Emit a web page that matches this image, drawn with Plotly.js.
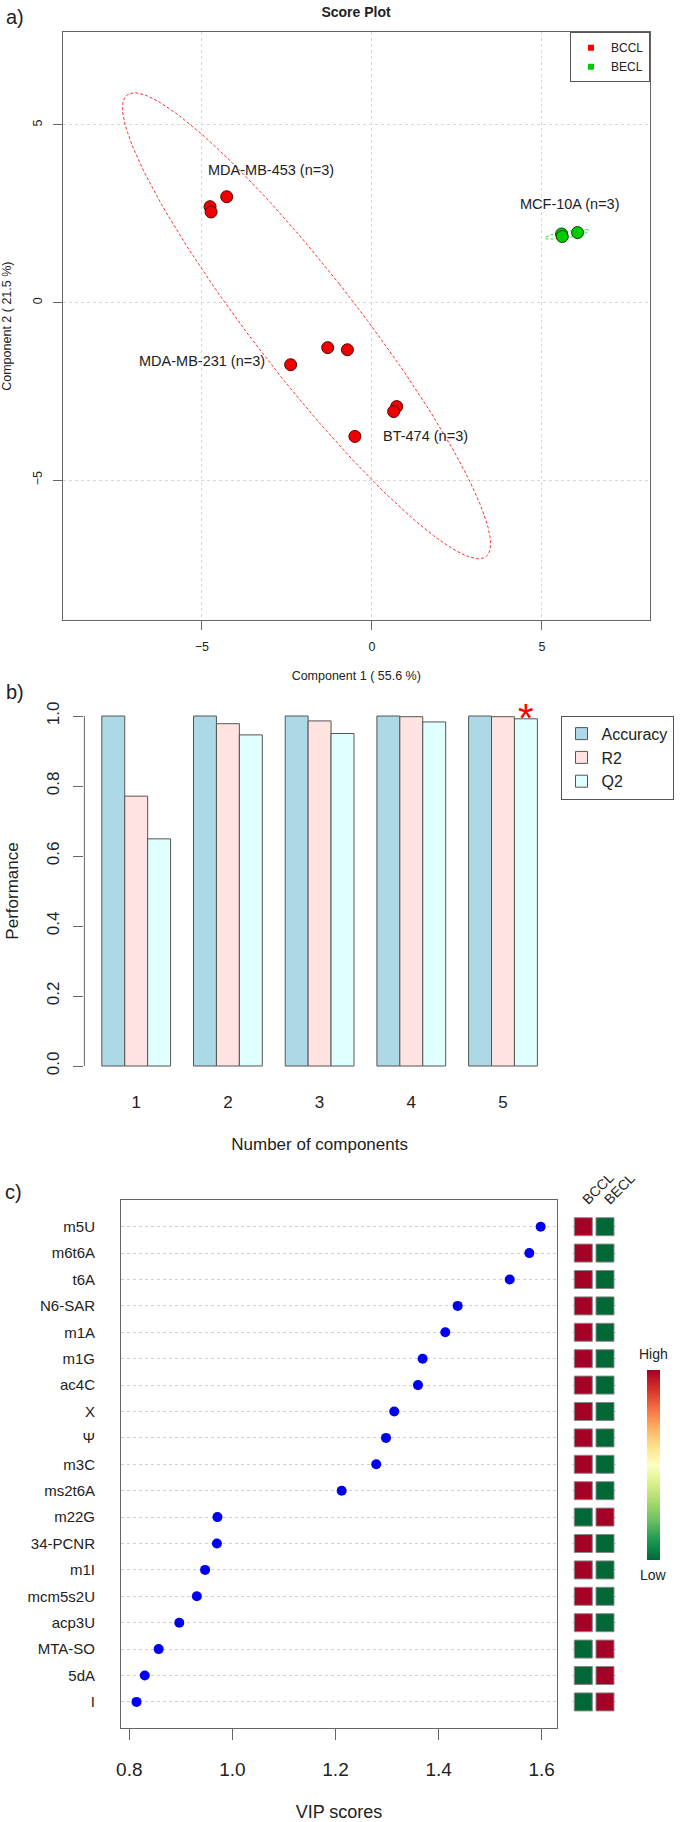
<!DOCTYPE html>
<html><head><meta charset="utf-8">
<script src="https://cdn.plot.ly/plotly-3.0.1.min.js"></script>
<style>html,body{margin:0;padding:0;background:#fff}</style>
</head><body>
<div id="chart" style="width:685px;height:1822px"></div>
<script>
// ---------- Panel a: PLS-DA score plot ----------
const bcclComp1 = [-4.76, -4.73, -4.27, -1.30, -0.72, -2.39, 0.73, 0.64, -0.50];
const bcclComp2 = [2.70, 2.55, 2.98, -1.27, -1.33, -1.75, -2.93, -3.07, -3.77];
const beclComp1 = [5.58, 5.60, 6.05];
const beclComp2 = [1.93, 1.86, 1.97];
const classNames = ['BCCL', 'BECL'];
const cellLineLabels = ['MDA-MB-453 (n=3)', 'MCF-10A (n=3)', 'MDA-MB-231 (n=3)', 'BT-474 (n=3)'];
const cellLineLabelX = [-2.97, 5.83, -5.0, 1.59];
const cellLineLabelY = [3.72, 2.78, -1.64, -3.77];

// ---------- Panel b: performance ----------
const components = ['1', '2', '3', '4', '5'];
const accuracy = [1.0, 1.0, 1.0, 1.0, 1.0];
const r2 = [0.771, 0.978, 0.986, 0.998, 0.998];
const q2 = [0.649, 0.946, 0.950, 0.983, 0.992];
const bestComponent = '5';

// ---------- Panel c: VIP scores ----------
const features = ['m5U','m6t6A','t6A','N6-SAR','m1A','m1G','ac4C','X','\u03A8','m3C','ms2t6A',
                  'm22G','34-PCNR','m1I','mcm5s2U','acp3U','MTA-SO','5dA','I'];
const vipScores = [1.598,1.576,1.538,1.437,1.413,1.369,1.360,1.314,1.298,1.279,1.212,
                   0.971,0.970,0.947,0.931,0.897,0.857,0.830,0.814];
const bcclLevel = [1,1,1,1,1,1,1,1,1,1,1,0,1,1,1,1,0,0,0];
const beclLevel = [0,0,0,0,0,0,0,0,0,0,0,1,0,0,0,0,1,1,1];
const vipTicks = [0.8, 1.0, 1.2, 1.4, 1.6];

// ---------- helpers ----------
const W = 685, H = 1822;
const px = v => v / W;
const py = v => 1 - v / H;
const FONT = 'Liberation Sans, Arial, Helvetica, sans-serif';
const TXT = '#222';
const AX = '#666';

function confEllipse(xs, ys, level, n) {
  const m = xs.length;
  const cx = xs.reduce((a, b) => a + b, 0) / m;
  const cy = ys.reduce((a, b) => a + b, 0) / m;
  let sxx = 0, syy = 0, sxy = 0;
  for (let i = 0; i < m; i++) {
    sxx += (xs[i] - cx) ** 2; syy += (ys[i] - cy) ** 2; sxy += (xs[i] - cx) * (ys[i] - cy);
  }
  const vx = sxx / (m - 1), vy = syy / (m - 1), cv = sxy / (m - 1);
  const sx = Math.sqrt(vx), sy = Math.sqrt(vy);
  const r = cv / (sx * sy);
  const t = Math.sqrt(-2 * Math.log(1 - level));
  const d = Math.acos(r);
  const ex = [], ey = [];
  for (let k = 0; k <= n; k++) {
    const a = 2 * Math.PI * k / n;
    ex.push(cx + t * sx * Math.cos(a + d / 2));
    ey.push(cy + t * sy * Math.cos(a - d / 2));
  }
  return {x: ex, y: ey};
}

const ellB = confEllipse(bcclComp1, bcclComp2, 0.95, 200);
const ellE = confEllipse(beclComp1, beclComp2, 0.95, 200);

const traces = [
  {type:'scatter', mode:'lines', x: ellB.x, y: ellB.y, xaxis:'x', yaxis:'y', showlegend:false,
   line:{color:'#FF3030', width:1, dash:'3px,2px'}, hoverinfo:'skip'},
  {type:'scatter', mode:'lines', x: ellE.x, y: ellE.y, xaxis:'x', yaxis:'y', showlegend:false,
   line:{color:'#30E030', width:1, dash:'3px,2px'}, hoverinfo:'skip'},
  {type:'scatter', mode:'markers', x: bcclComp1, y: bcclComp2, xaxis:'x', yaxis:'y', showlegend:false,
   marker:{size:12, color:'#EE0000', line:{color:'#5a0000', width:1}}},
  {type:'scatter', mode:'markers', x: beclComp1, y: beclComp2, xaxis:'x', yaxis:'y', showlegend:false,
   marker:{size:12, color:'#00CC00', line:{color:'#004400', width:1}}},
  {type:'scatter', mode:'markers', x:[null], y:[null], xaxis:'x', yaxis:'y', name: classNames[0],
   legend:'legend', marker:{symbol:'square', size:6, color:'#FF0000'}},
  {type:'scatter', mode:'markers', x:[null], y:[null], xaxis:'x', yaxis:'y', name: classNames[1],
   legend:'legend', marker:{symbol:'square', size:6, color:'#00CC00'}},
  // panel b
  {type:'bar', x: components, y: accuracy, name:'Accuracy', xaxis:'x2', yaxis:'y2', legend:'legend2',
   marker:{color:'#ADD8E6', line:{color:'#555', width:1}}},
  {type:'bar', x: components, y: r2, name:'R2', xaxis:'x2', yaxis:'y2', legend:'legend2',
   marker:{color:'#FFE4E1', line:{color:'#555', width:1}}},
  {type:'bar', x: components, y: q2, name:'Q2', xaxis:'x2', yaxis:'y2', legend:'legend2',
   marker:{color:'#E0FFFF', line:{color:'#555', width:1}}},
  // panel c dots
  {type:'scatter', mode:'markers', x: vipScores, y: features, xaxis:'x3', yaxis:'y3', showlegend:false,
   marker:{size:10, color:'#0000EE'}},
  // panel c heat cells
  {type:'scatter', mode:'markers', xaxis:'x4', yaxis:'y3', showlegend:false,
   x: features.map(() => 'BCCL').concat(features.map(() => 'BECL')),
   y: features.concat(features),
   marker:{symbol:'square', size:18, color: bcclLevel.concat(beclLevel), cmin:0, cmax:1,
     colorscale:[[0,'#006837'],[0.1,'#1A9850'],[0.2,'#66BD63'],[0.3,'#A6D96A'],[0.4,'#D9EF8B'],
                 [0.5,'#FFFFBF'],[0.6,'#FEE08B'],[0.7,'#FDAE61'],[0.8,'#F46D43'],[0.9,'#D73027'],[1,'#A50026']],
     line:{color:'#888', width:1}, showscale:true,
     colorbar:{x:px(646.7), xanchor:'left', xpad:0, y:py(1465), yanchor:'middle', ypad:0,
       len:190, lenmode:'pixels', thickness:13, showticklabels:false, ticks:'', outlinewidth:0}}}
];

const centerNote = (text, x, y, size) => ({text, xref:'paper', yref:'paper', x:px(x), y:py(y),
  xanchor:'center', yanchor:'middle', showarrow:false, font:{size}});

const layout = {
  width: W, height: H,
  margin: {l:0, r:0, t:0, b:0},
  paper_bgcolor:'#fff', plot_bgcolor:'#fff',
  font: {family: FONT, color: TXT, size: 12},
  title: {text:'Score Plot', x: px(356), y: py(12), xref:'paper', yref:'paper',
          xanchor:'center', yanchor:'middle', font:{size:14, weight:'bold', color:TXT}},
  xaxis: {domain:[px(62.5), px(650)], range:[-9.10, 8.18], anchor:'y',
    tickvals:[-5,0,5], ticks:'outside', ticklen:9, tickcolor:AX, ticklabelstandoff:6,
    showline:true, mirror:true, linecolor:AX, linewidth:1,
    showgrid:true, gridcolor:'#d8d8d8', griddash:'dot', zeroline:false, tickfont:{size:12.5},
    title:{text:'Component 1 ( 55.6 %)', font:{size:12.5}, standoff:18}},
  yaxis: {domain:[py(620), py(32.3)], range:[-8.94, 7.61], anchor:'x',
    tickvals:[-5,0,5], tickangle:-90, ticks:'outside', ticklen:9, tickcolor:AX, ticklabelstandoff:6,
    showline:true, mirror:true, linecolor:AX, linewidth:1,
    showgrid:true, gridcolor:'#d8d8d8', griddash:'dot', zeroline:false, tickfont:{size:12.5},
    title:{text:'Component 2 ( 21.5 %)', font:{size:12.5}, standoff:17}},
  legend: {x: px(650), xanchor:'right', y: py(32.3), yanchor:'top', bgcolor:'#fff',
    bordercolor:'#555', borderwidth:1, font:{size:12}, itemwidth:30},
  barmode:'group', bargap:0.25, bargroupgap:0,
  xaxis2: {domain:[px(84.4), px(554.8)], range:[-0.565, 4.565], anchor:'y2', type:'category',
    showline:false, ticks:'', showgrid:false, zeroline:false, tickfont:{size:17}, ticklabelstandoff:10,
    title:{text:'Number of components', font:{size:17}, standoff:27}},
  yaxis2: {domain:[py(1080), py(702)], range:[-0.04, 1.04], anchor:'x2',
    tickvals:[0,0.2,0.4,0.6,0.8,1.0], tickformat:'.1f', tickangle:-90, ticks:'outside', ticklen:10,
    tickcolor:AX, showline:false, showgrid:false, zeroline:false, tickfont:{size:17}, ticklabelstandoff:8,
    title:{text:'Performance', font:{size:17}, standoff:20}},
  legend2: {x: px(560.5), xanchor:'left', y: py(715.7), yanchor:'top', bgcolor:'#fff',
    bordercolor:'#555', borderwidth:1, font:{size:16}, tracegroupgap:0},
  xaxis3: {domain:[px(121), px(557)], range:[0.7839, 1.6297], anchor:'y3',
    tickvals: vipTicks, tickformat:'.1f', ticks:'outside', ticklen:11, tickcolor:AX,
    showline:true, mirror:true, linecolor:AX, linewidth:1, showgrid:false, zeroline:false,
    tickfont:{size:19}, ticklabelstandoff:13,
    title:{text:'VIP scores', font:{size:18}, standoff:36}},
  yaxis3: {domain:[py(1728.3), py(1200.3)], anchor:'x3', type:'category',
    categoryorder:'array', categoryarray: features, range:[19, -1],
    showline:true, mirror:true, linecolor:AX, linewidth:1, ticks:'',
    showgrid:true, gridcolor:'#d0d0d0', griddash:'dot', zeroline:false,
    tickfont:{size:15}, ticklabelstandoff:22},
  xaxis4: {domain:[px(572.45), px(615.85)], range:[-0.5, 1.5], anchor:'free', position: py(1210),
    side:'top', type:'category', showline:false, ticks:'', showgrid:false, zeroline:false,
    tickangle:-45, tickfont:{size:14}},
  shapes: [
    {type:'line', xref:'x2 domain', x0:0, x1:0, yref:'y2', y0:0, y1:1, line:{color:AX, width:1}}
  ],
  annotations: [
    centerNote('a)', 15, 17, 20),
    centerNote('b)', 15, 692, 20),
    centerNote('c)', 13, 1192, 20),
    centerNote('High', 653.3, 1354, 14),
    centerNote('Low', 653.3, 1575, 14),
    {text:'*', xref:'x2', yref:'y2', x: components.indexOf(bestComponent), xshift: 0.25*91.7, y:1.0,
     xanchor:'center', yanchor:'middle', yshift:-2, showarrow:false, font:{size:40, color:'#FF0000'}}
  ].concat(cellLineLabels.map((t, i) => ({text:t, xref:'x', yref:'y', x: cellLineLabelX[i], y: cellLineLabelY[i],
     xanchor:'center', yanchor:'middle', showarrow:false, font:{size:14.5}})))
};

Plotly.newPlot('chart', traces, layout, {staticPlot:true, displayModeBar:false});
</script>
</body></html>
